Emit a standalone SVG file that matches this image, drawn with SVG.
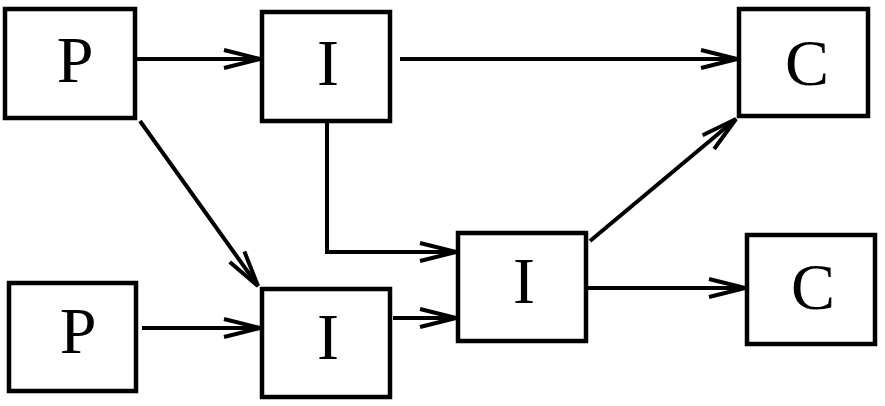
<svg xmlns="http://www.w3.org/2000/svg" width="885" height="406" viewBox="0 0 885 406">
<style>
.box rect{fill:#fff;stroke:#000;stroke-width:4.5}
.box text{font-family:'Times New Roman',Times,'Liberation Serif',Tinos,'Nimbus Roman',serif;font-size:66px;text-anchor:middle;fill:#000}
.conn{fill:none;stroke:#000;stroke-width:4;marker-end:url(#arr)}
</style>
<defs>
<marker id="arr" markerUnits="userSpaceOnUse" orient="auto" refX="0" refY="0" markerWidth="50" markerHeight="30" viewBox="-40 -15 50 30" overflow="visible">
<path d="M-36,-9 L0,0 L-36,9" fill="none" stroke="#000" stroke-width="4"/>
</marker>
</defs>
<rect width="885" height="406" fill="#fff"/>
<g id="connectors">
<path class="conn" d="M137,59 L260,59"/>
<path class="conn" d="M400,59 L737,59"/>
<path class="conn" d="M140,121 L258,286"/>
<path class="conn" d="M327,123 L327,252 L456,252"/>
<path class="conn" d="M142,328 L260,328"/>
<path class="conn" d="M393,318 L456,318"/>
<path class="conn" d="M590,241 L736,119"/>
<path class="conn" d="M588,288 L745,288"/>
</g>
<g id="P1" class="box"><rect x="5" y="9" width="130" height="109"/><text x="75" y="82">P</text></g>
<g id="I1" class="box"><rect x="262" y="12" width="128" height="109"/><text x="328" y="85">I</text></g>
<g id="C1" class="box"><rect x="739" y="9" width="129" height="107"/><text x="807" y="85">C</text></g>
<g id="P2" class="box"><rect x="9" y="283" width="127" height="108"/><text x="78" y="353">P</text></g>
<g id="I2" class="box"><rect x="262" y="289" width="128" height="108"/><text x="328" y="359">I</text></g>
<g id="I3" class="box"><rect x="458" y="233" width="128" height="108"/><text x="524" y="303">I</text></g>
<g id="C2" class="box"><rect x="747" y="235" width="128" height="109"/><text x="813" y="309">C</text></g>
</svg>
